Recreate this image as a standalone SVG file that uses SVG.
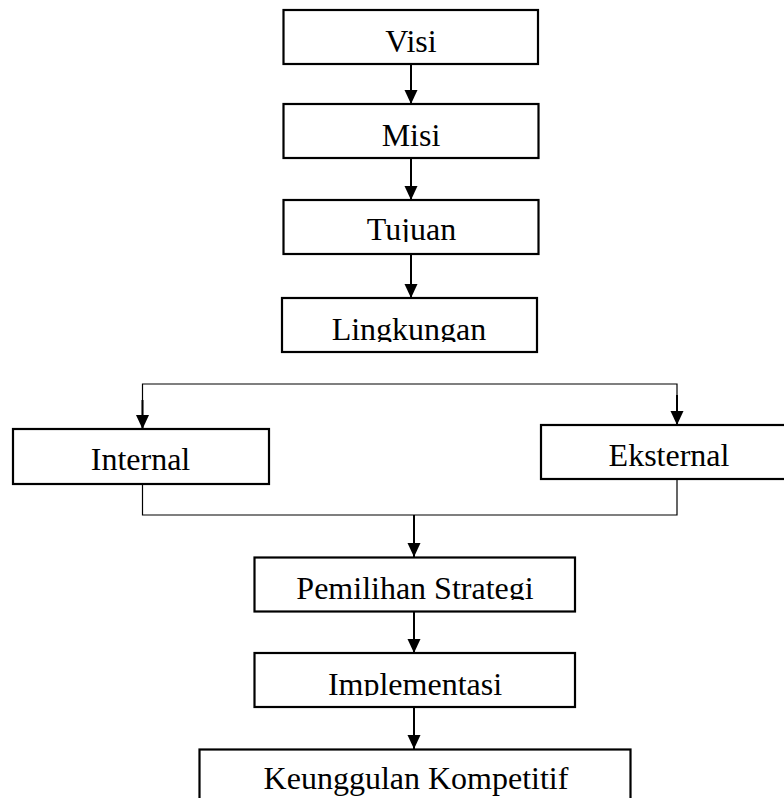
<svg xmlns="http://www.w3.org/2000/svg" width="784" height="798" viewBox="0 0 784 798">
<style>
.box{fill:#fff;stroke:#000;stroke-width:2.2}
.lbl{font-family:"Liberation Serif","Times New Roman",serif;font-size:32px;fill:#000;text-anchor:middle}
.arr{fill:none;stroke:#000;stroke-width:2;marker-end:url(#ah)}
.thin{fill:none;stroke:#000;stroke-width:1.2}
</style>
<defs>
<marker id="ah" markerUnits="userSpaceOnUse" markerWidth="14" markerHeight="14" refX="14" refY="7" orient="auto" viewBox="0 0 14 14">
<path d="M0,0.5 L14,7 L0,13.5 z" fill="#000"/>
</marker>
<clipPath id="c-tujuan"><rect x="283" y="200" width="256" height="42"/></clipPath>
<clipPath id="c-ling"><rect x="282" y="298" width="255" height="44"/></clipPath>
<clipPath id="c-pem"><rect x="254" y="557" width="321" height="43"/></clipPath>
<clipPath id="c-imp"><rect x="254" y="653" width="321" height="43"/></clipPath>
</defs>
<rect width="784" height="798" fill="#fff"/>
<g id="connectors">
<line class="arr" x1="411" y1="64" x2="411" y2="104"/>
<line class="arr" x1="411" y1="158" x2="411" y2="200"/>
<line class="arr" x1="411" y1="254" x2="411" y2="298"/>
<polyline class="thin" points="142.5,429 142.5,384 677,384 677,425"/>
<line class="arr" x1="142.5" y1="400" x2="142.5" y2="429"/>
<line class="arr" x1="677" y1="395" x2="677" y2="425"/>
<polyline class="thin" points="142.5,484 142.5,515 677,515 677,479"/>
<line class="arr" x1="414" y1="515" x2="414" y2="557"/>
<line class="arr" x1="414" y1="612" x2="414" y2="653"/>
<line class="arr" x1="414" y1="707" x2="414" y2="749"/>
</g>
<g id="visi">
<rect class="box" x="283.5" y="10" width="254.5" height="54"/>
<text class="lbl" x="411" y="52">Visi</text>
</g>
<g id="misi">
<rect class="box" x="283.5" y="104" width="255" height="54"/>
<text class="lbl" x="411" y="146">Misi</text>
</g>
<g id="tujuan">
<rect class="box" x="283.5" y="200" width="255" height="54"/>
<text class="lbl" x="411.5" y="240" clip-path="url(#c-tujuan)">Tujuan</text>
</g>
<g id="lingkungan">
<rect class="box" x="282" y="298" width="255" height="54"/>
<text class="lbl" x="409" y="340" clip-path="url(#c-ling)">Lingkungan</text>
</g>
<g id="internal">
<rect class="box" x="13" y="429" width="256" height="55"/>
<text class="lbl" x="140.5" y="470">Internal</text>
</g>
<g id="eksternal">
<rect class="box" x="541" y="425" width="250" height="54"/>
<text class="lbl" x="669" y="466">Eksternal</text>
</g>
<g id="pemilihan-strategi">
<rect class="box" x="254.5" y="557.5" width="320.5" height="54"/>
<text class="lbl" x="415" y="599" clip-path="url(#c-pem)">Pemilihan Strategi</text>
</g>
<g id="implementasi">
<rect class="box" x="254.5" y="653" width="320.5" height="54"/>
<text class="lbl" x="415" y="695" clip-path="url(#c-imp)">Implementasi</text>
</g>
<g id="keunggulan-kompetitif">
<rect class="box" x="199.5" y="749.5" width="431" height="60"/>
<text class="lbl" x="416" y="789">Keunggulan Kompetitif</text>
</g>
</svg>
